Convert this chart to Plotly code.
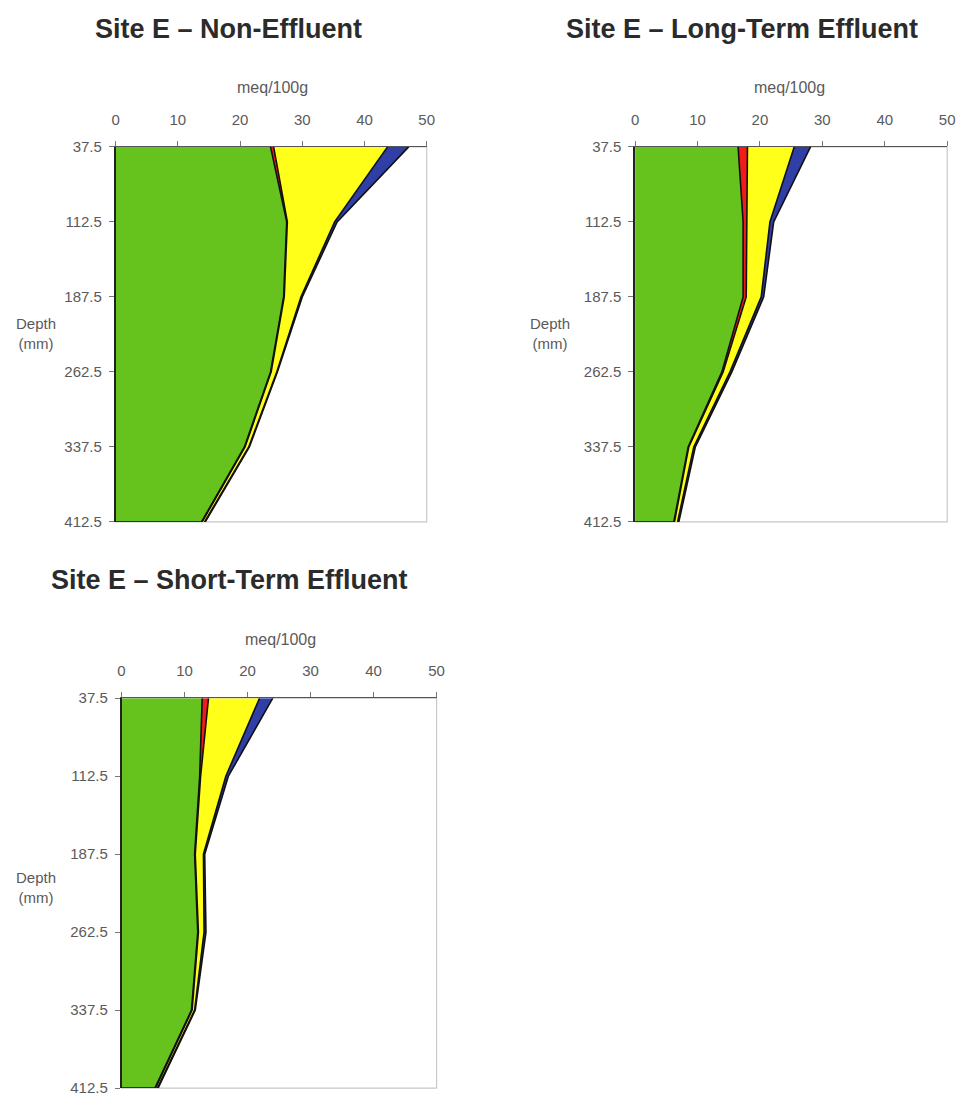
import plotly.graph_objects as go

# Depth of each sampling layer (mm)
depth = [37.5, 112.5, 187.5, 262.5, 337.5, 412.5]
depth_labels = ["37.5", "112.5", "187.5", "262.5", "337.5", "412.5"]
x_ticks = [0, 10, 20, 30, 40, 50]

# Exchangeable cations (meq/100g) per layer, one list per cation
non_green = [24.9, 27.5, 27.0, 24.9, 20.7, 13.8]
non_red = [0.5, 0.1, 0.1, 0.1, 0.1, 0.1]
non_yellow = [18.3, 7.6, 2.7, 0.9, 0.6, 0.4]
non_blue = [3.4, 0.4, 0.2, 0.1, 0.1, 0.1]

long_green = [16.5, 17.3, 17.3, 13.9, 8.5, 6.2]
long_red = [1.5, 0.6, 0.5, 0.2, 0.1, 0.1]
long_yellow = [7.5, 3.7, 2.4, 1.1, 0.8, 0.5]
long_blue = [2.6, 0.6, 0.4, 0.3, 0.25, 0.2]

short_green = [12.8, 12.4, 11.6, 12.1, 11.1, 5.3]
short_red = [1.0, 0.15, 0.1, 0.1, 0.1, 0.1]
short_yellow = [8.1, 4.0, 1.3, 0.9, 0.4, 0.3]
short_blue = [2.1, 0.4, 0.2, 0.3, 0.1, 0.1]

colors = ["#66c31e", "#f01c1c", "#ffff1a", "#2f3fa6"]

W, H = 972, 1103


def px(x):
    return x / W


def py(y):
    return 1 - y / H


panels = [
    dict(title="Site E \u2013 Non-Effluent", series=[non_green, non_red, non_yellow, non_blue],
         box=(113, 428, 140, 521), title_xy=(227, 20), unit_xy=(272, 80), depth_xy=(32, 320)),
    dict(title="Site E \u2013 Long-Term Effluent", series=[long_green, long_red, long_yellow, long_blue],
         box=(639, 955, 140, 521), title_xy=(747, 20), unit_xy=(795, 80), depth_xy=(553, 320)),
    dict(title="Site E \u2013 Short-Term Effluent", series=[short_green, short_red, short_yellow, short_blue],
         box=(119, 438, 700, 1096), title_xy=(228, 580), unit_xy=(280, 640), depth_xy=(32, 882)),
]

FONT = "Liberation Sans, Arial, sans-serif"
fig = go.Figure()
annotations = []
shapes = []
layout = {}

for i, p in enumerate(panels, start=1):
    sfx = "" if i == 1 else str(i)
    xa, ya = "x" + sfx, "y" + sfx
    for k, vals in enumerate(p["series"]):
        fig.add_trace(go.Scatter(
            x=vals, y=depth, xaxis=xa, yaxis=ya,
            mode="lines", stackgroup="s%d" % i, orientation="h",
            fillcolor=colors[k], line=dict(color="#111111", width=1.6),
            showlegend=False, hoverinfo="skip",
        ))
    x0, x1, y0, y1 = p["box"]
    layout["xaxis" + sfx] = dict(
        domain=[px(x0), px(x1)], anchor=ya, side="top", range=[0, 50],
        tickvals=x_ticks, ticks="outside", ticklen=5, tickcolor="#777",
        showline=True, linecolor="#555", linewidth=1.2, showgrid=False, zeroline=False,
        tickfont=dict(family=FONT, size=15, color="#5a5a5a"), ticklabelstandoff=10,
    )
    layout["yaxis" + sfx] = dict(
        domain=[py(y1), py(y0)], anchor=xa, range=[412.5, 37.5],
        tickvals=depth, ticktext=depth_labels, ticks="outside", ticklen=5, tickcolor="#777",
        showline=True, linecolor="#222", linewidth=1.5, showgrid=False, zeroline=False,
        tickfont=dict(family=FONT, size=15, color="#5a5a5a"), ticklabelstandoff=4,
    )
    # light plot-area frame
    shapes.append(dict(type="rect", xref=xa + " domain", yref=ya + " domain",
                       x0=0, x1=1, y0=0, y1=1, line=dict(color="#c8c8c8", width=1.2),
                       layer="below"))
    # dark outline along the base of the lowest layer
    shapes.append(dict(type="line", xref=xa, yref=ya, x0=0, x1=p["series"][0][-1],
                       y0=depth[-1], y1=depth[-1], line=dict(color="#111111", width=1.6)))
    tx, ty = p["title_xy"]
    annotations.append(dict(text="<b>%s</b>" % p["title"], x=px(tx), y=py(ty), xref="paper", yref="paper",
                            showarrow=False, xanchor="center", yanchor="middle",
                            font=dict(family=FONT, size=27, color="#2b2b2b")))
    ux, uy = p["unit_xy"]
    annotations.append(dict(text="meq/100g", x=px(ux), y=py(uy), xref="paper", yref="paper",
                            showarrow=False, xanchor="center", yanchor="middle",
                            font=dict(family=FONT, size=16, color="#5a5a5a")))
    dx, dy = p["depth_xy"]
    annotations.append(dict(text="Depth<br>(mm)", x=px(dx), y=py(dy + 10), xref="paper", yref="paper",
                            showarrow=False, xanchor="center", yanchor="middle", align="center",
                            font=dict(family=FONT, size=15, color="#5a5a5a")))

fig.update_layout(
    width=W, height=H, margin=dict(l=0, r=0, t=0, b=0),
    paper_bgcolor="white", plot_bgcolor="white",
    annotations=annotations, shapes=shapes, **layout,
)

fig.write_html("out.html")
